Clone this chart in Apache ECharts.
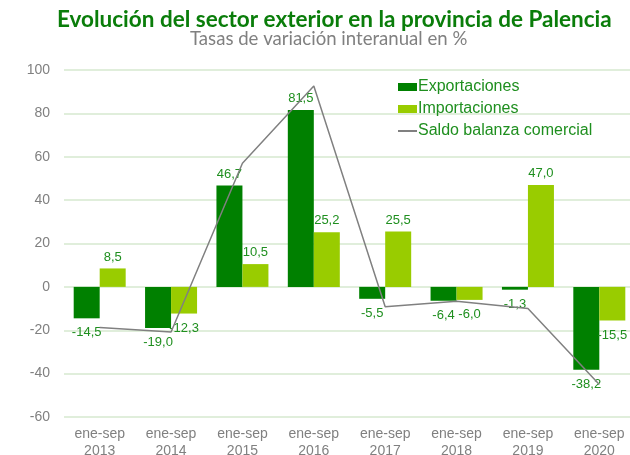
<!DOCTYPE html>
<html>
<head>
<meta charset="utf-8">
<script src="https://cdn.jsdelivr.net/npm/echarts@6/dist/echarts.min.js"></script>
<style>
  html, body { margin: 0; padding: 0; background: #fff; }
  #chart { width: 630px; height: 455px; }
</style>
</head>
<body>
<div id="chart"></div>
<script>
const categories = ['ene-sep\n2013', 'ene-sep\n2014', 'ene-sep\n2015', 'ene-sep\n2016', 'ene-sep\n2017', 'ene-sep\n2018', 'ene-sep\n2019', 'ene-sep\n2020'];
const exportaciones = [-14.5, -19.0, 46.7, 81.5, -5.5, -6.4, -1.3, -38.2];
const importaciones = [8.5, -12.3, 10.5, 25.2, 25.5, -6.0, 47.0, -15.5];
const saldo = [-18.7, -20.8, 57.0, 92.6, -9.2, -6.6, -10.0, -45.0];
const yTicks = { min: -60, max: 100, interval: 20 };

const labelColor = '#1f8f1f';
const fmt = v => v.toFixed(1).replace('.', ',');

// etiqueta arriba si es positivo, abajo si es negativo
function barData(values) {
  return values.map(v => ({
    value: v,
    label: v < 0 ? { position: 'bottom', distance: 8 } : { position: 'top', distance: 5 }
  }));
}

const chart = echarts.init(document.getElementById('chart'));

const option = {
  animation: false,
  title: [
    {
      text: 'Evolución del sector exterior en la provincia de Palencia',
      left: 57,
      top: 8,
      padding: 0,
      textStyle: {
        fontFamily: 'Lato',
        fontWeight: 'bold',
        fontSize: 22.5,
        color: '#0a7d0a'
      }
    },
    {
      text: 'Tasas de variación interanual en %',
      left: 190,
      top: 29,
      padding: 0,
      textStyle: {
        fontFamily: 'Lato',
        fontWeight: 'normal',
        fontSize: 18.6,
        color: '#808080'
      }
    }
  ],
  legend: {
    orient: 'vertical',
    left: 397,
    top: 79,
    padding: 0,
    itemWidth: 19,
    itemHeight: 8,
    itemGap: 6,
    textStyle: {
      fontFamily: 'Liberation Sans',
      fontSize: 16,
      color: labelColor,
      padding: [0, 0, 0, -4]
    },
    data: [
      { name: 'Exportaciones', icon: 'rect' },
      { name: 'Importaciones', icon: 'rect' },
      { name: 'Saldo balanza comercial', itemStyle: { opacity: 0 } }
    ]
  },
  grid: {
    left: 64,
    width: 571,
    top: 70,
    bottom: 38,
    outerBoundsMode: 'none'
  },
  xAxis: {
    type: 'category',
    data: categories,
    axisLine: { show: false, onZero: false },
    axisTick: { show: false },
    axisLabel: {
      color: '#808080',
      fontFamily: 'Liberation Sans',
      fontSize: 14,
      lineHeight: 17,
      margin: 9,
      interval: 0
    }
  },
  yAxis: {
    type: 'value',
    min: yTicks.min,
    max: yTicks.max,
    interval: yTicks.interval,
    axisLine: { show: false },
    axisTick: { show: false },
    axisLabel: {
      color: '#808080',
      fontFamily: 'Liberation Sans',
      fontSize: 14,
      margin: 14
    },
    splitLine: {
      lineStyle: { color: '#d6e8cf', width: 1.5 }
    }
  },
  series: [
    {
      name: 'Exportaciones',
      type: 'bar',
      barWidth: 26,
      barGap: '0%',
      itemStyle: { color: '#008000' },
      label: {
        show: true,
        color: labelColor,
        fontFamily: 'Liberation Sans',
        fontSize: 13,
        formatter: p => fmt(p.value)
      },
      data: barData(exportaciones)
    },
    {
      name: 'Importaciones',
      type: 'bar',
      barWidth: 26,
      barGap: '0%',
      itemStyle: { color: '#99cc00' },
      label: {
        show: true,
        color: labelColor,
        fontFamily: 'Liberation Sans',
        fontSize: 13,
        formatter: p => fmt(p.value)
      },
      data: barData(importaciones)
    },
    {
      name: 'Saldo balanza comercial',
      type: 'line',
      symbol: 'none',
      z: 5,
      lineStyle: { color: '#808080', width: 1.5 },
      itemStyle: { color: '#808080' },
      data: saldo
    }
  ]
};

chart.setOption(option);
</script>
</body>
</html>
